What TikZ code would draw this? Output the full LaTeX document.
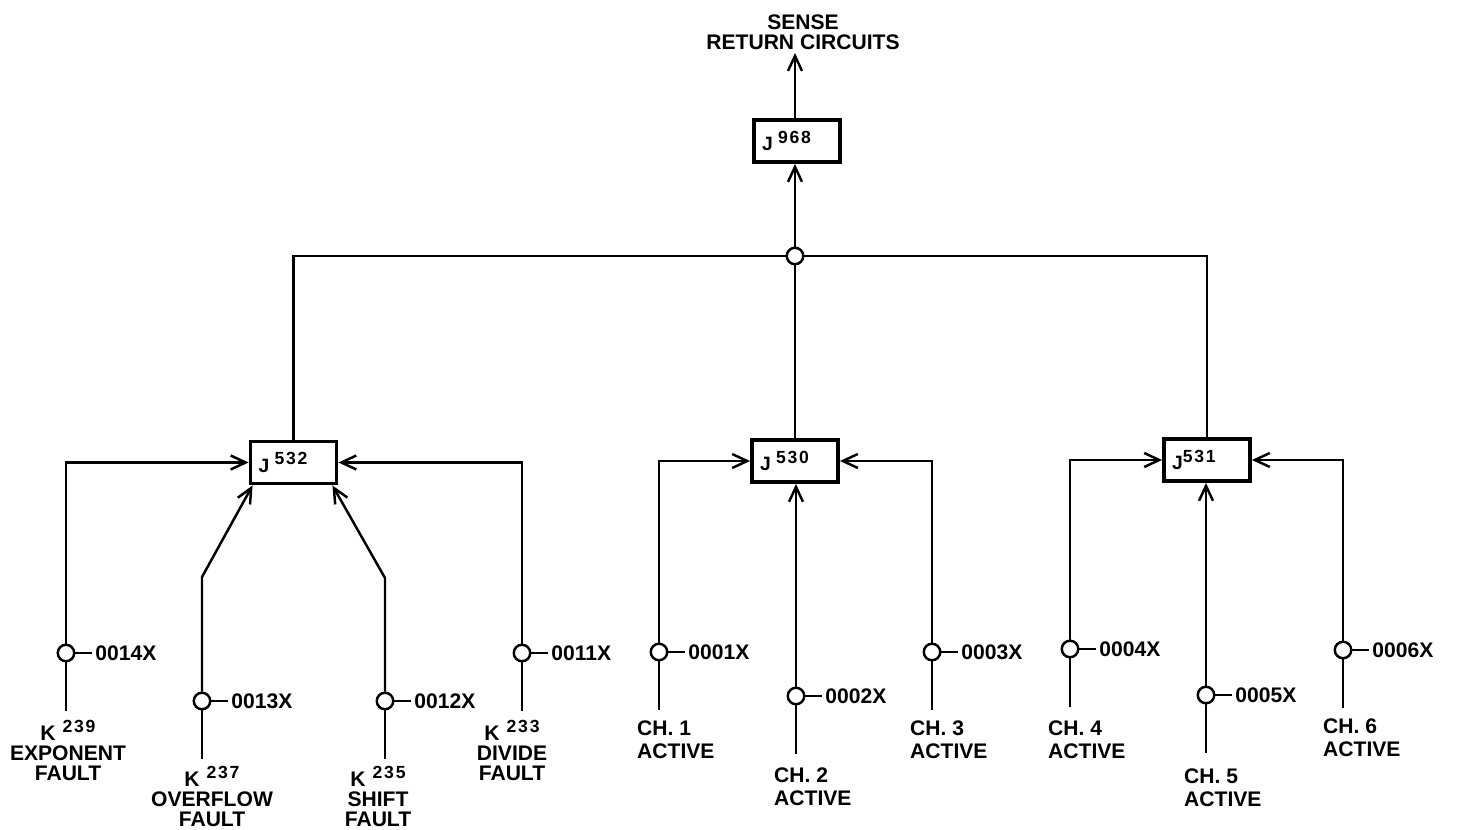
\documentclass[tikz,border=0pt]{standalone}
\usepackage{fontspec}
\setmainfont{Liberation Sans}
\newfontfamily\digfont[LetterSpace=10]{Liberation Sans}
\newcommand\upnum[1]{\raisebox{4.5pt}{\digfont\bfseries\fontsize{10}{10}\selectfont#1}}
\usetikzlibrary{arrows.meta}

\begin{document}
\begin{tikzpicture}[x=0.02cm, y=-0.02cm, line width=1.4pt,
        jbox/.style={draw, line width=2.2pt, minimum width=1.72cm, minimum height=0.84cm,
            text width=1.4cm, align=left, inner sep=0pt, font=\bfseries\fontsize{11}{12}\selectfont},
        tap/.style={draw, circle, fill=white, minimum size=0.33cm, inner sep=0pt},
        tag/.style={anchor=west, inner sep=1pt, font=\bfseries\fontsize{12}{13}\selectfont},
        fault/.style={anchor=north, align=center, inner sep=0pt, font=\bfseries\fontsize{12}{11.5}\selectfont},
        chan/.style={anchor=north west, align=left, inner sep=0pt, font=\bfseries\fontsize{12}{13}\selectfont},
        feed/.style={-{Straight Barb[length=3mm,width=2.8mm]}}]
    \useasboundingbox (0,0) rectangle (1457,830);

    \node[fault, anchor=south, inner sep=1pt] (sense) at (803,53) {SENSE\\RETURN CIRCUITS};
    \node[jbox] (j968) at (797,141) {J\hspace{3pt}\upnum{968}};
    \node[tap] (hub) at (795,256) {};

    \node[jbox] (j532) at (293.5,462.5) {J\hspace{3pt}\upnum{532}};
    \node[jbox] (j530) at (795,461) {J\hspace{3pt}\upnum{530}};
    \node[jbox] (j531) at (1207,460) {J\upnum{531}};

    \draw[feed] (hub |- j968.north) -- (hub |- sense.south);
    \draw[feed] (hub) -- (hub |- j968.south);
    \draw (j532) |- (hub) -| (j531);
    \draw (hub) -- (j530);

    \foreach \n/\x/\y in {14/66/653, 13/202/701, 12/385/701, 11/522/653,
                          01/659/652, 02/796/696, 03/932/652,
                          04/1070/649, 05/1206/695, 06/1343/650} {
        \node[tap] (c\n) at (\x,\y) {};
        \node[tag] (t\n) at ([xshift=0.34cm]c\n.east) {00\n X};
        \draw (c\n) -- (t\n);
        \pgfmathsetmacro\yend{\y+58}
        \coordinate (e\n) at (\x,\yend);
        \draw (c\n) -- (e\n);
    }

    \node[fault] (k239) at (68,719) {K\hspace{4pt}\upnum{239}\\EXPONENT\\FAULT};
    \node[fault] (k237) at (212,765) {K\hspace{4pt}\upnum{237}\\OVERFLOW\\FAULT};
    \node[fault] (k235) at (378,765) {K\hspace{4pt}\upnum{235}\\SHIFT\\FAULT};
    \node[fault] (k233) at (512,719) {K\hspace{4pt}\upnum{233}\\DIVIDE\\FAULT};

    \node[chan] (ch1) at (636,720) {CH. 1\\ACTIVE};
    \node[chan] (ch2) at (773,767) {CH. 2\\ACTIVE};
    \node[chan] (ch3) at (909,720) {CH. 3\\ACTIVE};
    \node[chan] (ch4) at (1047,720) {CH. 4\\ACTIVE};
    \node[chan] (ch5) at (1183,768) {CH. 5\\ACTIVE};
    \node[chan] (ch6) at (1322,718) {CH. 6\\ACTIVE};

    \coordinate (k13) at (202,577);
    \coordinate (k12) at (385,578);
    \draw[feed] (c14) |- (j532);
    \draw[feed] (c13) -- (k13) -- ([xshift=0.08cm]j532.south west);
    \draw[feed] (c12) -- (k12) -- ([xshift=-0.12cm]j532.south east);
    \draw[feed] (c11) |- (j532);

    \draw[feed] (c01) |- (j530);
    \draw[feed] (c02) -- (c02 |- j530.south);
    \draw[feed] (c03) |- (j530);

    \draw[feed] (c04) |- (j531);
    \draw[feed] (c05) -- (c05 |- j531.south);
    \draw[feed] (c06) |- (j531);
\end{tikzpicture}
\end{document}
